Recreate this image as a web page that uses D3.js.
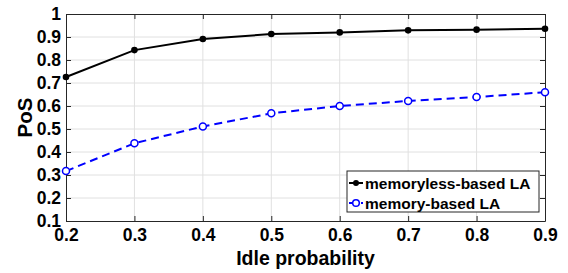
<!DOCTYPE html>
<html>
<head>
<meta charset="utf-8">
<script src="https://cdn.jsdelivr.net/npm/d3@7"></script>
<style>
  body { margin: 0; background: #fff; }
  text { font-family: "Liberation Sans", Arial, sans-serif; font-weight: bold; }
</style>
</head>
<body>
<div id="chart"></div>
<script>
const idle = [0.2, 0.3, 0.4, 0.5, 0.6, 0.7, 0.8, 0.9];
const memoryless = [0.726, 0.843, 0.891, 0.913, 0.920, 0.929, 0.932, 0.936];
const memory = [0.317, 0.438, 0.511, 0.568, 0.600, 0.622, 0.639, 0.660];
const yTicks = [0.1, 0.2, 0.3, 0.4, 0.5, 0.6, 0.7, 0.8, 0.9, 1];
const seriesNames = ["memoryless-based LA", "memory-based LA"];

const width = 568, height = 273;
const margin = { top: 14, right: 23, bottom: 52, left: 66 };

const svg = d3.select("#chart").append("svg")
  .attr("width", width).attr("height", height);

const x = d3.scaleLinear().domain([0.2, 0.9]).range([margin.left, width - margin.right]);
const y = d3.scaleLinear().domain([0.1, 1]).range([height - margin.bottom, margin.top]);

// grid
svg.append("g").selectAll("line").data(idle.slice(1, -1)).join("line")
  .attr("x1", d => x(d)).attr("x2", d => x(d))
  .attr("y1", y(0.1)).attr("y2", y(1))
  .attr("stroke", "#e0e0e0").attr("stroke-width", 1);
svg.append("g").selectAll("line").data(yTicks.slice(1, -1)).join("line")
  .attr("x1", x(0.2)).attr("x2", x(0.9))
  .attr("y1", d => y(d)).attr("y2", d => y(d))
  .attr("stroke", "#e0e0e0").attr("stroke-width", 1);

const axisColor = "#262626";
const fmt = d => d === 1 ? "1" : d3.format(".1f")(d);

const gx = svg.append("g").attr("transform", `translate(0,${y(0.1)})`)
  .call(d3.axisBottom(x).tickValues(idle).tickFormat(fmt).tickSizeInner(-5).tickSizeOuter(0).tickPadding(8));
const gxTop = svg.append("g").attr("transform", `translate(0,${y(1)})`)
  .call(d3.axisTop(x).tickValues(idle).tickFormat("").tickSizeInner(-5).tickSizeOuter(0));
const gy = svg.append("g").attr("transform", `translate(${x(0.2)},0)`)
  .call(d3.axisLeft(y).tickValues(yTicks).tickFormat(fmt).tickSizeInner(-5).tickSizeOuter(0).tickPadding(5));
const gyR = svg.append("g").attr("transform", `translate(${x(0.9)},0)`)
  .call(d3.axisRight(y).tickValues(yTicks).tickFormat("").tickSizeInner(-5).tickSizeOuter(0));

[gx, gxTop, gy, gyR].forEach(g => {
  g.selectAll("path, line").attr("stroke", axisColor).attr("stroke-width", 1);
  g.selectAll("text").attr("fill", "#000").style("font-size", "17.5px").style("font-weight", "bold")
    .style("font-family", "'Liberation Sans', Arial, sans-serif");
});

// axis labels
svg.append("text")
  .attr("x", (x(0.2) + x(0.9)) / 2).attr("y", 265)
  .attr("text-anchor", "middle").style("font-size", "19.5px").text("Idle probability");
svg.append("text")
  .attr("transform", `translate(32,${(y(0.1) + y(1)) / 2}) rotate(-90)`)
  .attr("text-anchor", "middle").style("font-size", "20.5px").text("PoS");

const line = d3.line().x((d, i) => x(idle[i])).y(d => y(d));

// memoryless
svg.append("path").datum(memoryless).attr("d", line)
  .attr("fill", "none").attr("stroke", "#000").attr("stroke-width", 2);
svg.append("g").selectAll("circle").data(memoryless).join("circle")
  .attr("cx", (d, i) => x(idle[i])).attr("cy", d => y(d)).attr("r", 3.3).attr("fill", "#000");

// memory
svg.append("path").datum(memory).attr("d", line)
  .attr("fill", "none").attr("stroke", "#0000ff").attr("stroke-width", 2)
  .attr("stroke-dasharray", "8,5");
svg.append("g").selectAll("circle").data(memory).join("circle")
  .attr("cx", (d, i) => x(idle[i])).attr("cy", d => y(d)).attr("r", 3.5)
  .attr("fill", "#fff").attr("stroke", "#0000ff").attr("stroke-width", 1.5);

// legend
const lg = svg.append("g").attr("transform", "translate(347,171)");
lg.append("rect").attr("width", 192).attr("height", 41)
  .attr("fill", "#fff").attr("stroke", axisColor).attr("stroke-width", 1);
seriesNames.forEach((name, i) => {
  const cy = 12 + i * 20;
  const color = i === 0 ? "#000" : "#0000ff";
  lg.append("line").attr("x1", 2).attr("x2", 16).attr("y1", cy).attr("y2", cy)
    .attr("stroke", color).attr("stroke-width", 2)
    .attr("stroke-dasharray", i === 0 ? null : "4,2");
  if (i === 0) {
    lg.append("circle").attr("cx", 9).attr("cy", cy).attr("r", 3).attr("fill", color);
  } else {
    lg.append("circle").attr("cx", 9).attr("cy", cy).attr("r", 3.3)
      .attr("fill", "#fff").attr("stroke", color).attr("stroke-width", 1.5);
  }
  lg.append("text").attr("x", 18).attr("y", cy + 5.5).style("font-size", "15.5px").text(name);
});
</script>
</body>
</html>
